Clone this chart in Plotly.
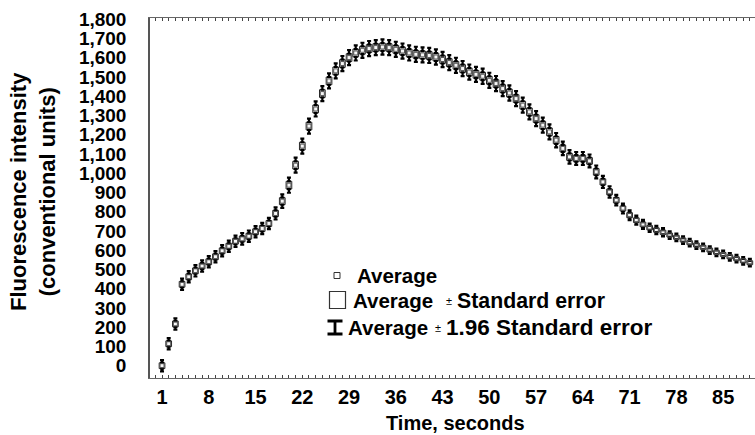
import plotly.graph_objects as go

# ---------------- data ----------------
time_s = list(range(1, 90))

average = [
    0, 114, 217, 423, 462, 493, 518, 540, 566, 597,
    621, 647, 659, 673, 696, 713, 739, 791, 855, 938,
    1042, 1141, 1245, 1334, 1414, 1480, 1532, 1570, 1601, 1625,
    1639, 1648, 1653, 1656, 1653, 1644, 1635, 1625, 1618, 1615,
    1612, 1604, 1591, 1575, 1561, 1544, 1526, 1514, 1504, 1483,
    1466, 1440, 1417, 1388, 1354, 1319, 1284, 1250, 1215, 1172,
    1129, 1085, 1077, 1077, 1064, 1007, 955, 903, 860, 817,
    782, 756, 734, 717, 705, 693, 679, 667, 653, 639,
    627, 615, 601, 589, 578, 566, 556, 545, 535,
]

std_error = [
    15, 15, 15, 15, 15, 15, 15, 15, 15, 15,
    15, 15, 15, 15, 15, 15, 15, 16, 18, 20,
    20, 20, 20, 20, 20, 20, 20, 20, 20, 20,
    20, 20, 20, 20, 20, 20, 20, 20, 20, 20,
    20, 20, 20, 20, 20, 20, 20, 20, 20, 20,
    20, 20, 20, 20, 20, 20, 20, 20, 20, 19,
    18, 18, 17, 17, 17, 17, 16, 15, 14, 13,
    13, 12, 12, 11, 11, 11, 10, 10, 10, 10,
    10, 10, 10, 10, 10, 10, 10, 10, 10,
]

x_tick_vals = [1, 8, 15, 22, 29, 36, 43, 50, 57, 64, 71, 78, 85]
y_tick_vals = list(range(0, 1801, 100))
y_tick_text = [f"{v:,}" for v in y_tick_vals]

x_title = "Time, seconds"
y_title = "Fluorescence intensity<br>(conventional units)"

# ---------------- geometry helpers ----------------
W, H = 755, 435
L, R, T, B = 150, 0, 18, 57
PW, PH = W - L - R, H - T - B


def px_x(px):
    return (px - L) / PW


def px_y(py):
    return (H - B - py) / PH


FONT = "Liberation Sans, Arial, sans-serif"

# ---------------- traces ----------------
box_base = [a - s for a, s in zip(average, std_error)]
box_height = [2 * s for s in std_error]
upper = [a + s for a, s in zip(average, std_error)]
lower = [a - s for a, s in zip(average, std_error)]
whisker = [0.96 * s for s in std_error]
zeros = [0] * len(time_s)

fig = go.Figure()

fig.add_trace(go.Bar(
    x=time_s, y=box_height, base=box_base, width=0.85,
    marker=dict(color="#f7f7f7", line=dict(color="#222222", width=1)),
    hoverinfo="skip", showlegend=False,
))

fig.add_trace(go.Scatter(
    x=time_s, y=upper, mode="markers",
    marker=dict(size=1, color="rgba(0,0,0,0)"),
    error_y=dict(type="data", symmetric=False, array=whisker, arrayminus=zeros,
                 thickness=2.2, width=2, color="black"),
    hoverinfo="skip", showlegend=False,
))

fig.add_trace(go.Scatter(
    x=time_s, y=lower, mode="markers",
    marker=dict(size=1, color="rgba(0,0,0,0)"),
    error_y=dict(type="data", symmetric=False, array=zeros, arrayminus=whisker,
                 thickness=2.2, width=2, color="black"),
    hoverinfo="skip", showlegend=False,
))

fig.add_trace(go.Scatter(
    x=time_s, y=average, mode="markers",
    marker=dict(symbol="square-open", size=4, color="#555555", line=dict(width=1)),
    showlegend=False,
))

# ---------------- legend (drawn) ----------------
shapes = [
    dict(type="rect", xref="paper", yref="paper",
         x0=px_x(334), x1=px_x(340), y0=px_y(278.5), y1=px_y(272.5),
         line=dict(color="#333333", width=1), fillcolor="white"),
    dict(type="rect", xref="paper", yref="paper",
         x0=px_x(329.5), x1=px_x(345.5), y0=px_y(308.5), y1=px_y(291.5),
         line=dict(color="#333333", width=1.2), fillcolor="white"),
    dict(type="path", xref="paper", yref="paper",
         path=(f"M {px_x(327.5)} {px_y(321)} L {px_x(342.5)} {px_y(321)} "
               f"M {px_x(335)} {px_y(321)} L {px_x(335)} {px_y(334)} "
               f"M {px_x(327.5)} {px_y(334)} L {px_x(342.5)} {px_y(334)}"),
         line=dict(color="black", width=2.8)),
]

# (text, left px, centre y px, font size, bold)
legend_pieces = [
    ("Average", 355, 275.5, 20.5, True),
    ("Average", 351, 300.5, 20.5, True),
    ("±", 444, 301, 11, False),
    ("Standard error", 455, 300.5, 21.3, True),
    ("Average", 346, 327, 20.5, True),
    ("±", 433, 328, 11, False),
    ("1.96 Standard error", 444, 327, 22.5, True),
]

annotations = []
for txt, lx, ly, fs, bold in legend_pieces:
    annotations.append(dict(
        text=txt, xref="paper", yref="paper", x=px_x(lx), y=px_y(ly),
        xanchor="left", yanchor="middle", showarrow=False,
        font=dict(family=FONT, size=fs, color="black",
                  weight="bold" if bold else "normal"),
    ))

annotations.append(dict(
    text=x_title, xref="paper", yref="paper", x=px_x(455), y=px_y(423),
    xanchor="center", yanchor="middle", showarrow=False,
    font=dict(family=FONT, size=20, color="black", weight="bold"),
))
annotations.append(dict(
    text=y_title, xref="paper", yref="paper", x=px_x(33), y=px_y(192),
    xanchor="center", yanchor="middle", showarrow=False, textangle=-90,
    font=dict(family=FONT, size=22, color="black", weight="bold"),
))

# ---------------- layout ----------------
fig.update_layout(
    width=W, height=H,
    margin=dict(l=L, r=R, t=T, b=B, pad=0, autoexpand=False),
    paper_bgcolor="white", plot_bgcolor="white",
    showlegend=False,
    shapes=shapes, annotations=annotations,
    xaxis=dict(
        range=[-0.8, 89.77], automargin=False,
        tickmode="array", tickvals=x_tick_vals,
        ticks="inside", ticklen=3, tickwidth=1, tickcolor="#444",
        minor=dict(tickmode="linear", tick0=0, dtick=1, ticks="inside",
                   ticklen=3, tickwidth=1, tickcolor="#444", showgrid=False),
        showline=True, linecolor="#666", linewidth=1, mirror="ticks",
        showgrid=False, zeroline=False,
        tickfont=dict(family=FONT, size=20, color="black", weight="bold"),
        ticklabelstandoff=1,
    ),
    yaxis=dict(
        range=[-63.9, 1806.7], automargin=False,
        tickmode="array", tickvals=y_tick_vals, ticktext=y_tick_text,
        ticks="", showline=True, linecolor="#555", linewidth=1.5,
        showgrid=False, zeroline=False,
        tickfont=dict(family=FONT, size=19, color="black", weight="bold"),
        ticklabelstandoff=18,
    ),
    yaxis2=dict(
        overlaying="y", anchor="x", side="left", automargin=False,
        range=[0, 1800], tickmode="linear", tick0=0, dtick=100,
        ticks="inside", ticklen=3, tickwidth=1, tickcolor="#444",
        showticklabels=False, showline=False, showgrid=False, zeroline=False,
    ),
)

fig.write_html(
    "out.html",
    config={"displayModeBar": False},
    post_script="document.body.style.margin='0';document.body.style.overflow='hidden';",
)
